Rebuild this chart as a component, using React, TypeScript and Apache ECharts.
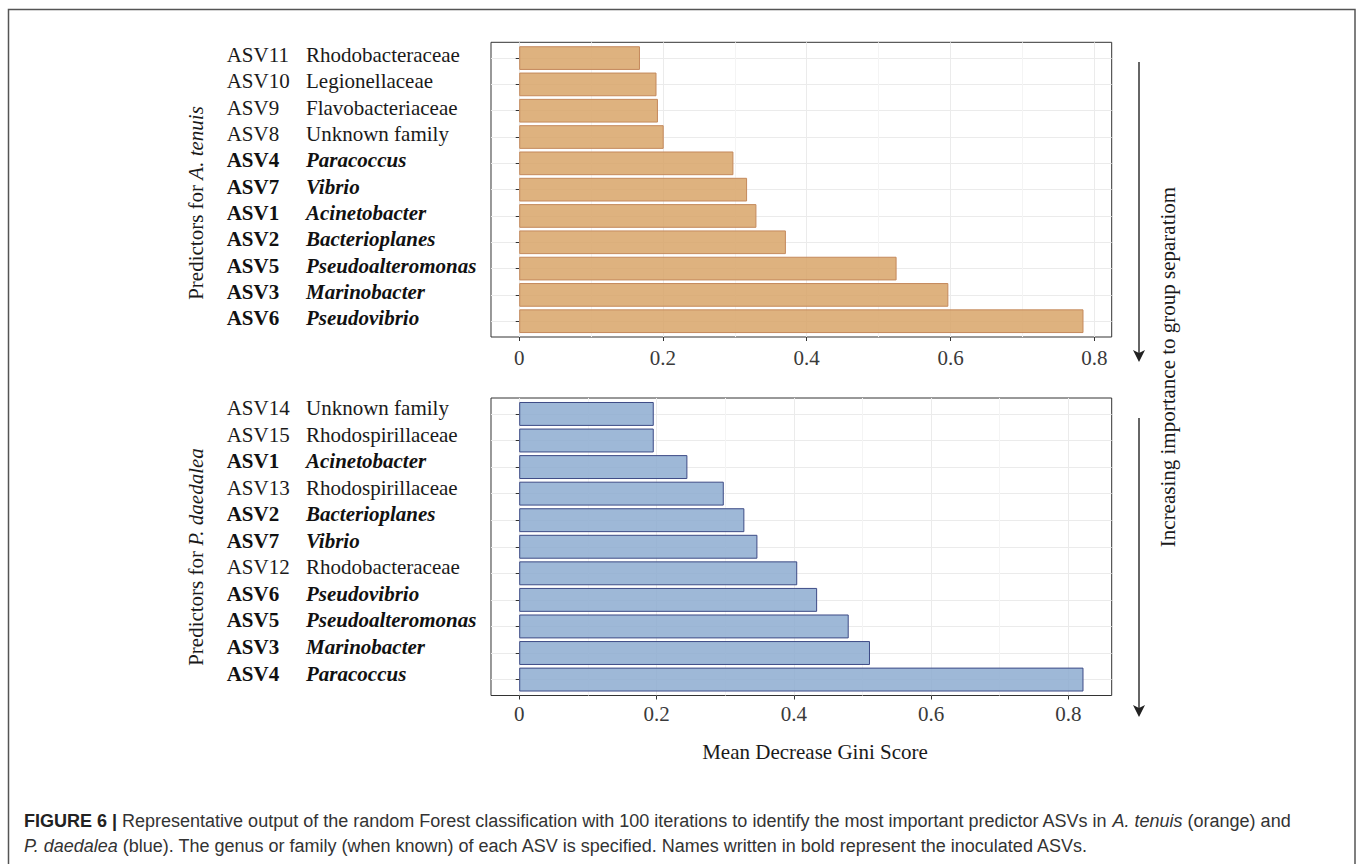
import React, { useEffect, useRef } from "react";
import * as echarts from "echarts";

// ---------- data ----------
const topIds = ["ASV11", "ASV10", "ASV9", "ASV8", "ASV4", "ASV7", "ASV1", "ASV2", "ASV5", "ASV3", "ASV6"];
const topTaxa = [
  "Rhodobacteraceae", "Legionellaceae", "Flavobacteriaceae", "Unknown family", "Paracoccus", "Vibrio",
  "Acinetobacter", "Bacterioplanes", "Pseudoalteromonas", "Marinobacter", "Pseudovibrio",
];
const topBold = [false, false, false, false, true, true, true, true, true, true, true];
const topValues = [0.168, 0.191, 0.193, 0.201, 0.298, 0.317, 0.33, 0.371, 0.525, 0.597, 0.785];

const bottomIds = ["ASV14", "ASV15", "ASV1", "ASV13", "ASV2", "ASV7", "ASV12", "ASV6", "ASV5", "ASV3", "ASV4"];
const bottomTaxa = [
  "Unknown family", "Rhodospirillaceae", "Acinetobacter", "Rhodospirillaceae", "Bacterioplanes", "Vibrio",
  "Rhodobacteraceae", "Pseudovibrio", "Pseudoalteromonas", "Marinobacter", "Paracoccus",
];
const bottomBold = [false, false, true, false, true, true, false, true, true, true, true];
const bottomValues = [0.196, 0.196, 0.245, 0.298, 0.328, 0.347, 0.405, 0.434, 0.48, 0.511, 0.822];

const xTickValues = [0, 0.2, 0.4, 0.6, 0.8];

const xTitle = "Mean Decrease Gini Score";
const yTitleTop = ["Predictors for ", "A. tenuis"];
const yTitleBottom = ["Predictors for ", "P. daedalea"];
const sideTitle = "Increasing importance to group separatiom";
const captionLine1 = [
  "FIGURE 6 | ",
  "Representative output of the random Forest classification with 100 iterations to identify the most important predictor ASVs in ",
  "A. tenuis",
  " (orange) and",
];
const captionLine2 = [
  "P. daedalea",
  " (blue). The genus or family (when known) of each ASV is specified. Names written in bold represent the inoculated ASVs.",
];

// ---------- layout ----------
const SERIF = "'Liberation Serif', 'Times New Roman', serif";
const SANS = "'Liberation Sans', Arial, Helvetica, sans-serif";
const FS = 21;
const CAP_FS = 18;
const PLOT_LEFT = 491;
const PLOT_WIDTH = 620.7;

const panels = [
  { top: 42.3, height: 294.7, ids: topIds, taxa: topTaxa, bold: topBold, values: topValues,
    fill: "rgba(216,164,104,0.85)", border: "#C4895C", labelMargin: 10, labelLift: 3 },
  { top: 398, height: 297.5, ids: bottomIds, taxa: bottomTaxa, bold: bottomBold, values: bottomValues,
    fill: "rgba(141,171,208,0.85)", border: "#3D4B86", labelMargin: 8, labelLift: 6 },
];

function buildOption() {
  const grid: any[] = [];
  const xAxis: any[] = [];
  const yAxis: any[] = [];
  const series: any[] = [];

  panels.forEach((p, k) => {
    const maxV = Math.max(...p.values);
    const pad = maxV * 0.05;
    const xmin = -pad;
    const xmax = maxV + pad;
    const band = p.height / (p.ids.length + 0.2);
    const inset = band * 0.1;
    const gA = k * 2;
    const gB = k * 2 + 1;

    grid.push({
      left: PLOT_LEFT, top: p.top, width: PLOT_WIDTH, height: p.height,
      show: true, borderColor: "#333", borderWidth: 1, backgroundColor: "transparent", z: 0,
    });
    grid.push({
      left: PLOT_LEFT, top: p.top + inset, width: PLOT_WIDTH, height: p.height - 2 * inset,
      show: false,
    });

    xAxis.push({
      type: "value", gridIndex: gA, min: xmin, max: xmax, splitNumber: 4,
      axisLine: { show: false },
      axisTick: { show: true, length: 4, customValues: xTickValues, lineStyle: { color: "#333", width: 1 } },
      axisLabel: {
        customValues: xTickValues, margin: p.labelMargin, fontFamily: SERIF, fontSize: FS, color: "#3a3a3a",
        formatter: (v: number) => String(Math.round(v * 10) / 10),
      },
      splitLine: { show: true, lineStyle: { color: "#EBEBEB", width: 1 } },
      minorTick: { show: false, splitNumber: 2 },
      minorSplitLine: { show: true, lineStyle: { color: "#F4F4F4", width: 1 } },
    });
    xAxis.push({ type: "value", gridIndex: gB, min: xmin, max: xmax, show: false });

    yAxis.push({ type: "value", gridIndex: gA, min: 0, max: 1, show: false });
    yAxis.push({
      type: "category", gridIndex: gB, data: p.ids, inverse: true,
      axisLine: { show: false },
      axisTick: { show: true, length: 3.5, alignWithLabel: true, interval: 0, lineStyle: { color: "#333", width: 1 } },
      splitLine: { show: true, alignWithLabel: true, interval: 0, lineStyle: { color: "#EBEBEB", width: 1 } },
      axisLabel: {
        interval: 0, align: "left", margin: PLOT_LEFT - 226.7, fontFamily: SERIF, fontSize: FS, color: "#1a1a1a",
        padding: [0, 0, p.labelLift * 2, 0],
        formatter: (_v: string, i: number) => {
          const b = p.bold[i];
          return `{${b ? "idB" : "id"}|${p.ids[i]}}{${b ? "txB" : "tx"}|${p.taxa[i]}}`;
        },
        rich: {
          id: { fontFamily: SERIF, fontSize: FS, width: 79.3, color: "#1a1a1a" },
          idB: { fontFamily: SERIF, fontSize: FS, width: 79.3, fontWeight: "bold", color: "#111" },
          tx: { fontFamily: SERIF, fontSize: FS, color: "#1a1a1a" },
          txB: { fontFamily: SERIF, fontSize: FS, fontWeight: "bold", fontStyle: "italic", color: "#111" },
        },
      },
    });

    series.push({
      type: "bar", xAxisIndex: gB, yAxisIndex: gB, data: p.values, barWidth: "90%",
      itemStyle: { color: p.fill, borderColor: p.border, borderWidth: 1 },
      silent: true,
    });
  });

  const rotTitle = (parts: string[], x: number, y: number) => ({
    type: "text", x, y, rotation: Math.PI / 2,
    style: {
      text: `{n|${parts[0]}}{i|${parts[1]}}`,
      align: "center", verticalAlign: "middle",
      rich: {
        n: { fontFamily: SERIF, fontSize: FS, fill: "#1a1a1a" },
        i: { fontFamily: SERIF, fontSize: FS, fontStyle: "italic", fill: "#1a1a1a" },
      },
    },
  });

  const arrow = (x: number, y1: number, y2: number) => [
    { type: "line", shape: { x1: x, y1, x2: x, y2: y2 - 8 }, style: { stroke: "#333", lineWidth: 1.5 } },
    { type: "polygon", shape: { points: [[x - 6, y2 - 12], [x, y2 - 9], [x + 6, y2 - 12], [x, y2]] }, style: { fill: "#222" } },
  ];

  const capRich = {
    b: { fontFamily: SANS, fontSize: CAP_FS, fontWeight: "bold", fill: "#222" },
    n: { fontFamily: SANS, fontSize: CAP_FS, fill: "#333" },
    i: { fontFamily: SANS, fontSize: CAP_FS, fontStyle: "italic", fill: "#333" },
  };

  const graphic: any[] = [
    { type: "rect", shape: { x: 8.5, y: 9.5, width: 1346.5, height: 900 }, style: { fill: "none", stroke: "#555", lineWidth: 1.5 }, silent: true },
    rotTitle(yTitleTop, 196, 203),
    rotTitle(yTitleBottom, 196, 557),
    {
      type: "text", x: 1168, y: 367, rotation: Math.PI / 2,
      style: { text: sideTitle, align: "center", verticalAlign: "middle", fontFamily: SERIF, fontSize: FS, fill: "#1a1a1a" },
    },
    ...arrow(1139, 62, 362),
    ...arrow(1139, 418, 717),
    {
      type: "text", x: 815, y: 752,
      style: { text: xTitle, align: "center", verticalAlign: "middle", fontFamily: SERIF, fontSize: FS, fill: "#1a1a1a" },
    },
    {
      type: "text", x: 24, y: 821,
      style: {
        text: `{b|${captionLine1[0]}}{n|${captionLine1[1]}}{i|${captionLine1[2]}}{n|${captionLine1[3]}}`,
        align: "left", verticalAlign: "middle", rich: capRich,
      },
    },
    {
      type: "text", x: 24, y: 846,
      style: {
        text: `{i|${captionLine2[0]}}{n|${captionLine2[1]}}`,
        align: "left", verticalAlign: "middle", rich: capRich,
      },
    },
  ];

  return {
    animation: false,
    backgroundColor: "#ffffff",
    grid, xAxis, yAxis, series, graphic,
  };
}

export default function App() {
  const ref = useRef<HTMLDivElement>(null);
  useEffect(() => {
    if (!ref.current) return;
    const chart = echarts.init(ref.current, null, { renderer: "svg" });
    chart.setOption(buildOption() as any);
    return () => chart.dispose();
  }, []);
  return (
    <div
      ref={ref}
      style={{ position: "absolute", left: 0, top: 0, width: 1357, height: 864, background: "#fff" }}
    />
  );
}
